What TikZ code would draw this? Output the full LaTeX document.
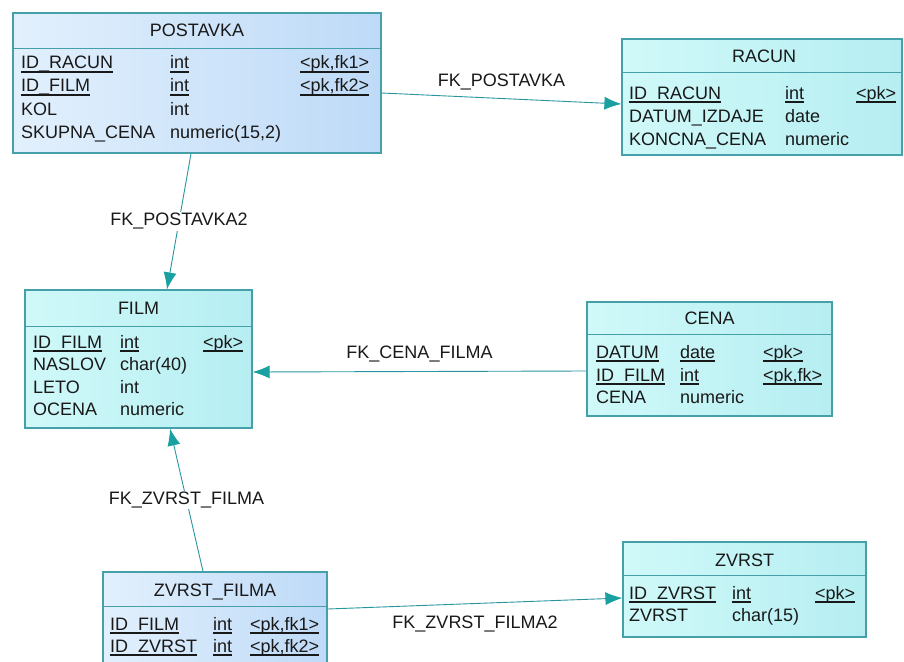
\documentclass[tikz,border=0pt]{standalone}
\usepackage{fontspec}
\setmainfont{Liberation Sans}
\usepackage{tikz}
\usetikzlibrary{arrows.meta}

\definecolor{tablebd}{RGB}{70,160,170}
\definecolor{linkcol}{RGB}{40,150,160}
\definecolor{arrowcol}{RGB}{25,160,160}
\definecolor{cyanA}{RGB}{208,249,249}
\definecolor{cyanB}{RGB}{182,238,242}
\definecolor{blueA}{RGB}{226,240,253}
\definecolor{blueB}{RGB}{190,218,247}
\definecolor{txtcol}{RGB}{25,25,25}

\newcommand{\keyul}[1]{\setbox0=\hbox{#1}\rlap{\vrule width\wd0 height -2.4pt depth 3.8pt}\box0}

\begin{document}
\begin{tikzpicture}[x=1pt, y=-1pt, font=\fontsize{18}{21}\selectfont, text=txtcol,
        entity/.style={draw=tablebd, line width=1.2pt, rectangle, inner sep=0pt},
        cyanbox/.style={entity, left color=cyanA, right color=cyanB},
        bluebox/.style={entity, left color=blueA, right color=blueB},
        headline/.style={draw=tablebd, line width=1pt},
        tbltitle/.style={anchor=base},
        tblcell/.style={anchor=base west, inner sep=0pt},
        link/.style={draw=linkcol, line width=0.9pt,
            -{Latex[length=17pt,width=13pt,fill=arrowcol,color=arrowcol]}},
        fklabel/.style={inner sep=1pt}]
    \fill[white] (0,0) rectangle (904,661);
    \useasboundingbox (0,0) rectangle (904,661);
    % POSTAVKA
    \node[bluebox, minimum width=368, minimum height=140] (postavka) at (197,83) {};
    \draw[headline] ([yshift=-36pt]postavka.north west) -- ([yshift=-36pt]postavka.north east);
    \node[tbltitle] at (197,37) {POSTAVKA};
    \foreach \y/\c/\t/\k in {69/\keyul{ID\_RACUN}/\keyul{int}/\keyul{<pk,fk1>},
                             92/\keyul{ID\_FILM}/\keyul{int}/\keyul{<pk,fk2>},
                             115/KOL/int/{}, 138/SKUPNA\_CENA/{numeric(15,2)}/{}} {
        \node[tblcell] at (21,\y) {\c};
        \node[tblcell] at (170,\y) {\t};
        \node[tblcell] at (300,\y) {\k};
    }
    % RACUN
    \node[cyanbox, minimum width=280, minimum height=116] (racun) at (762,97) {};
    \draw[headline] ([yshift=-34pt]racun.north west) -- ([yshift=-34pt]racun.north east);
    \node[tbltitle] at (764,63) {RACUN};
    \foreach \y/\c/\t/\k in {99/\keyul{ID\_RACUN}/\keyul{int}/\keyul{<pk>},
                             122/DATUM\_IZDAJE/date/{}, 145/KONCNA\_CENA/numeric/{}} {
        \node[tblcell] at (629,\y) {\c};
        \node[tblcell] at (785,\y) {\t};
        \node[tblcell] at (856,\y) {\k};
    }
    % FILM
    \node[cyanbox, minimum width=227, minimum height=138] (film) at (138.5,359) {};
    \draw[headline] ([yshift=-37pt]film.north west) -- ([yshift=-37pt]film.north east);
    \node[tbltitle] at (138.5,314) {FILM};
    \foreach \y/\c/\t/\k in {348/\keyul{ID\_FILM}/\keyul{int}/\keyul{<pk>},
                             370/NASLOV/char(40)/{}, 393/LETO/int/{}, 415/OCENA/numeric/{}} {
        \node[tblcell] at (33,\y) {\c};
        \node[tblcell] at (120,\y) {\t};
        \node[tblcell] at (203,\y) {\k};
    }
    % CENA
    \node[cyanbox, minimum width=245, minimum height=114] (cena) at (709.5,359) {};
    \draw[headline] ([yshift=-33pt]cena.north west) -- ([yshift=-33pt]cena.north east);
    \node[tbltitle] at (709.5,324) {CENA};
    \foreach \y/\c/\t/\k in {358/\keyul{DATUM}/\keyul{date}/\keyul{<pk>},
                             381/\keyul{ID\_FILM}/\keyul{int}/\keyul{<pk,fk>},
                             403/CENA/numeric/{}} {
        \node[tblcell] at (596,\y) {\c};
        \node[tblcell] at (680,\y) {\t};
        \node[tblcell] at (763,\y) {\k};
    }
    % ZVRST_FILMA
    \node[bluebox, minimum width=224, minimum height=94] (zvrstfilma) at (215,619) {};
    \draw[headline] ([yshift=-35pt]zvrstfilma.north west) -- ([yshift=-35pt]zvrstfilma.north east);
    \node[tbltitle] at (215,596) {ZVRST\_FILMA};
    \foreach \y/\c/\t/\k in {630/\keyul{ID\_FILM}/\keyul{int}/\keyul{<pk,fk1>},
                             652/\keyul{ID\_ZVRST}/\keyul{int}/\keyul{<pk,fk2>}} {
        \node[tblcell] at (110,\y) {\c};
        \node[tblcell] at (213,\y) {\t};
        \node[tblcell] at (250,\y) {\k};
    }
    % ZVRST
    \node[cyanbox, minimum width=243, minimum height=95] (zvrst) at (744.5,589.5) {};
    \draw[headline] ([yshift=-34pt]zvrst.north west) -- ([yshift=-34pt]zvrst.north east);
    \node[tbltitle] at (744.5,566) {ZVRST};
    \foreach \y/\c/\t/\k in {599/\keyul{ID\_ZVRST}/\keyul{int}/\keyul{<pk>},
                             621/ZVRST/char(15)/{}} {
        \node[tblcell] at (629,\y) {\c};
        \node[tblcell] at (732,\y) {\t};
        \node[tblcell] at (815,\y) {\k};
    }
    % foreign keys
    \draw[link] ([yshift=-10pt]postavka.east) -- node[above=5pt] {FK\_POSTAVKA} ([yshift=-7pt]racun.west);
    \draw[link] ([xshift=-6pt]postavka.south) -- node[fklabel, fill=white] {FK\_POSTAVKA2} ([xshift=28.5pt]film.north);
    \draw[link] ([yshift=-12pt]cena.west) -- node[above=6pt] {FK\_CENA\_FILMA} ([yshift=-13pt]film.east);
    \draw[link] ([xshift=-12pt]zvrstfilma.north) -- node[fklabel, fill=white] {FK\_ZVRST\_FILMA} ([xshift=31.5pt]film.south);
    \draw[link] ([yshift=10pt]zvrstfilma.east) -- node[below=9pt] {FK\_ZVRST\_FILMA2} ([yshift=-8.5pt]zvrst.west);
\end{tikzpicture}
\end{document}
